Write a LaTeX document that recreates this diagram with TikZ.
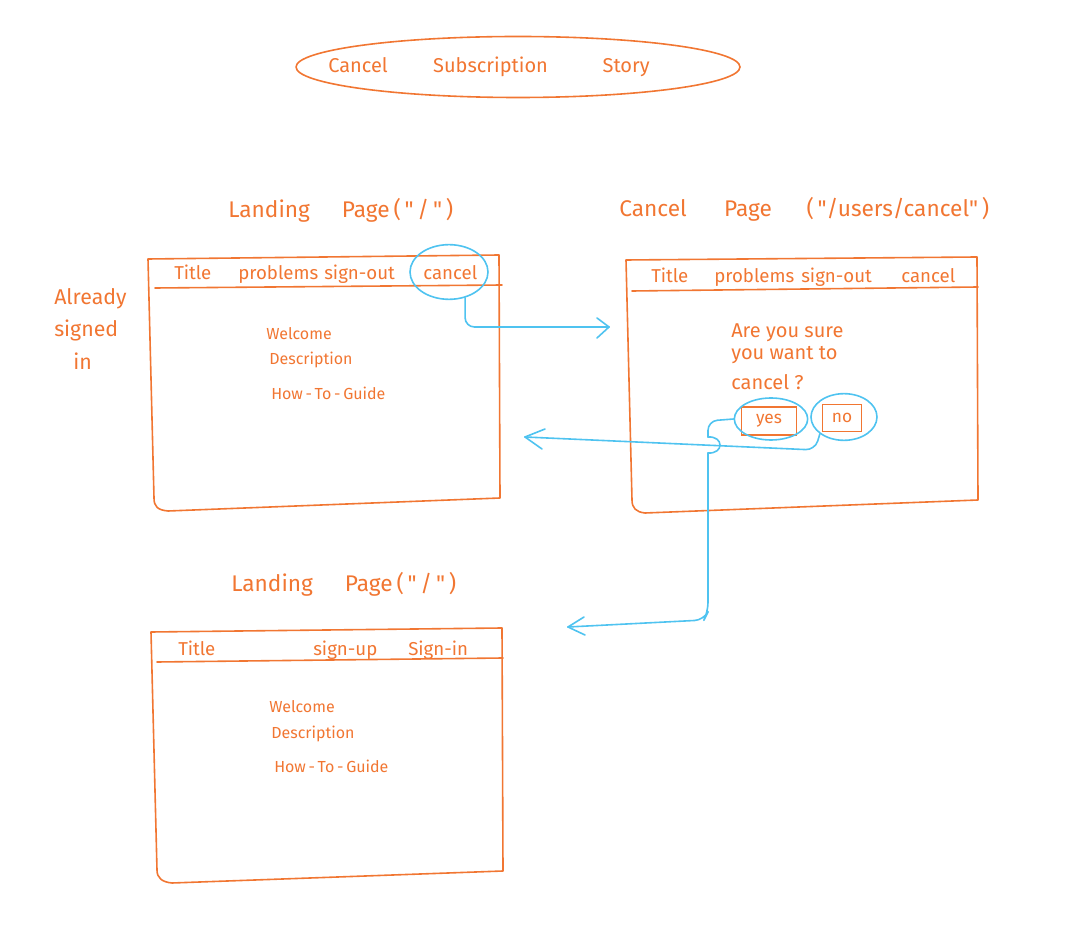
\documentclass[tikz,border=0pt]{standalone}
\usepackage{fontspec}
\setmainfont{Fira Sans}
\usepackage{tikz}
\usetikzlibrary{shapes.geometric}
\definecolor{penorange}{RGB}{241,118,50}
\definecolor{penblue}{RGB}{79,195,240}

\begin{document}
\begin{tikzpicture}[x=0.75pt,y=0.75pt,yscale=-1,xscale=1,
  wire/.style={draw=penorange, line width=1.2pt, line cap=round, line join=round},
  ring/.style={ellipse, draw=penblue, line width=1.2pt, inner sep=0pt},
  flow/.style={draw=penblue, line width=1.2pt, line cap=round, line join=round, rounded corners=7},
  button/.style={draw=penorange, line width=1.2pt, inner sep=0pt, text=penorange, font=\fontsize{13}{15}\selectfont},
  heading/.style={anchor=base west, inner sep=0.75pt, text=penorange, font=\fontsize{17}{20}\selectfont},
  menu/.style={anchor=base west, inner sep=0.75pt, text=penorange, font=\fontsize{14}{16}\selectfont},
  body/.style={anchor=base west, inner sep=0.75pt, text=penorange, font=\fontsize{12}{14}\selectfont},
  note/.style={anchor=base west, inner sep=0.75pt, text=penorange, font=\fontsize{16}{18}\selectfont},
  question/.style={anchor=base west, inner sep=0.75pt, text=penorange, font=\fontsize{15}{17}\selectfont}]
\path[use as bounding box] (0,0) rectangle (1082,937);

%Shape: Ellipse
\node (storyring) [ellipse, wire, minimum width=333pt, minimum height=45.75pt] at (518,67) {};
% Text Node
\draw (327,73) node (storytitle) [heading, font=\fontsize{15}{18}\selectfont] {Cancel\hspace{34pt}Subscription\hspace{41pt}Story};

%Shape: Rectangle
\draw [wire] (148,259) -- (499,255) -- (500,498) -- (168,511) .. controls (158,510) and (154,507) .. (154,498) -- cycle;
%Straight Lines
\draw [wire] (155,288) -- (502,285);
%Shape: Rectangle
\draw [wire] (626,260) -- (977,257) -- (978,500) -- (645,513) .. controls (636,512) and (632,508) .. (632,500) -- cycle;
%Straight Lines
\draw [wire] (632,291) -- (978,287);
%Shape: Rectangle
\draw [wire] (151,632) -- (502,628) -- (503,871) -- (172,883) .. controls (162,882) and (157,878) .. (157,870) -- cycle;
%Straight Lines
\draw [wire] (157,662) -- (503,658);

% Text Node
\draw (227,218) node (landingtitle) [heading] {Landing\hspace{24pt}Page\,(\,\textquotedbl\,/\,\textquotedbl\,)};
% Text Node
\draw (618,217) node (canceltitle) [heading] {Cancel\hspace{28pt}Page\hspace{26pt}(\,\textquotedbl/users/cancel\textquotedbl\,)};
% Text Node
\draw (230,592) node (landingtitleb) [heading] {Landing\hspace{24pt}Page\,(\,\textquotedbl\,/\,\textquotedbl\,)};

% Text Node
\draw (53,305) node (already) [note] {Already};
% Text Node
\draw (53,337) node (signed) [note] {signed};
% Text Node
\draw (72,370) node (signedin) [note] {in};

% Text Node
\draw (173,280) node (menutitle) [menu] {Title};
% Text Node
\draw (237,280) node (menuproblems) [menu] {problems};
% Text Node
\draw (323,280) node (menusignout) [menu] {sign-out};
% Text Node
\draw (422,280) node (menucancel) [menu] {cancel};
% Text Node
\draw (265,340) node (welcome) [body] {Welcome};
% Text Node
\draw (268,365) node (description) [body] {Description};
% Text Node
\draw (270,400) node (guide) [body] {How\,-\,To\,-\,Guide};

% Text Node
\draw (650,283) node (menutitleb) [menu] {Title};
% Text Node
\draw (713,283) node (menuproblemsb) [menu] {problems};
% Text Node
\draw (800,283) node (menusignoutb) [menu] {sign-out};
% Text Node
\draw (900,283) node (menucancelb) [menu] {cancel};
% Text Node
\draw (730,338) node (askline) [question] {Are you sure};
% Text Node
\draw (730,360) node (asklineb) [question] {you want to};
% Text Node
\draw (730,390) node (asklinec) [question] {cancel ?};
% Text Node
\node (yesbtn) [button, minimum width=41pt, minimum height=21pt] at (769,421) {yes};
% Text Node
\node (nobtn) [button, minimum width=29pt, minimum height=20pt] at (842,418) {no};

% Text Node
\draw (177,655) node (menutitlec) [menu] {Title};
% Text Node
\draw (312,655) node (menusignup) [menu] {sign-up};
% Text Node
\draw (407,655) node (menusignin) [menu] {Sign-in};
% Text Node
\draw (268,712) node (welcomeb) [body] {Welcome};
% Text Node
\draw (270,738) node (descriptionb) [body] {Description};
% Text Node
\draw (273,772) node (guideb) [body] {How\,-\,To\,-\,Guide};

%Shape: Ellipse
\node (cancelring) [ring, minimum width=58.5pt, minimum height=41pt] at (449,272) {};
%Shape: Ellipse
\node (yesring) [ring, minimum width=55pt, minimum height=31.5pt] at (771,419) {};
%Shape: Ellipse
\node (noring) [ring, minimum width=49.5pt, minimum height=35pt] at (844,417) {};

\coordinate (cancelin) at (609,327);
\coordinate (nobend) at (815,450);
\coordinate (backin) at (525,437);
\coordinate (yesturn) at (708,421);
\coordinate (signoutin) at (568,627);

%Curve Lines
\draw [flow] (cancelring.-58) |- (cancelin);
%Straight Lines
\draw [flow] (cancelin) -- ++(-12,-9);
%Straight Lines
\draw [flow] (cancelin) -- ++(-12,11);
%Curve Lines
\draw [flow] (noring.215) -- (nobend) -- (backin);
%Straight Lines
\draw [flow] (backin) -- ++(20,-8);
%Straight Lines
\draw [flow] (backin) -- ++(17,12);
%Curve Lines
\draw [flow] (yesring.west) -- (yesturn) -- (708,437);
\draw [flow] (708,437) .. controls (724,436) and (724,454) .. (708,453);
\draw [flow] (708,453) -- (708,612) -- (704,620) -- (signoutin);
%Straight Lines
\draw [flow] (signoutin) -- ++(16,-10);
%Straight Lines
\draw [flow] (signoutin) -- ++(17,8);
\end{tikzpicture}
\end{document}
